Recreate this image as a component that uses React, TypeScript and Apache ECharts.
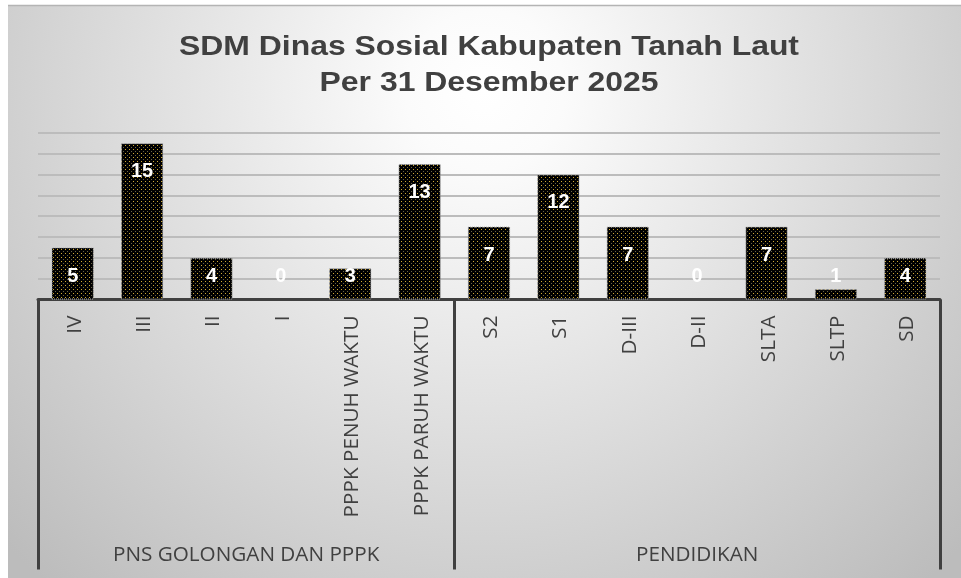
import React, { useEffect, useRef } from "react";
import * as echarts from "echarts";

// ---- data ----
const titleLines = ["SDM Dinas Sosial Kabupaten Tanah Laut", "Per 31 Desember 2025"];
const categories = [
  "IV", "III", "II", "I", "PPPK PENUH WAKTU", "PPPK PARUH WAKTU",
  "S2", "S1", "D-III", "D-II", "SLTA", "SLTP", "SD",
];
const values = [5, 15, 4, 0, 3, 13, 7, 12, 7, 0, 7, 1, 4];
const groupNames = ["PNS GOLONGAN DAN PPPK", "PENDIDIKAN"];
const groupSizes = [6, 7];
const yMin = 0;
const yMax = 16;
const yInterval = 2;

function makePattern(): HTMLCanvasElement {
  const c = document.createElement("canvas");
  c.width = 4;
  c.height = 4;
  const ctx = c.getContext("2d")!;
  ctx.fillStyle = "#000000";
  ctx.fillRect(0, 0, 4, 4);
  ctx.fillStyle = "#d2aa30";
  ctx.fillRect(1, 1, 1, 1);
  ctx.fillStyle = "#6a6446";
  ctx.fillRect(3, 3, 1, 1);
  return c;
}

export default function App() {
  const ref = useRef<HTMLDivElement>(null);

  useEffect(() => {
    if (!ref.current) return;
    const chart = echarts.init(ref.current, undefined, { renderer: "svg" });

    const boundaries: number[] = [0];
    groupSizes.forEach((s) => boundaries.push(boundaries[boundaries.length - 1] + s));
    const groupCenters = groupSizes.map((s, i) => boundaries[i] + s / 2);

    const pattern = makePattern();
    const labelFont = { color: "#404040", fontFamily: "'Open Sans', 'Liberation Sans', sans-serif", fontSize: 20.7 };

    const option: any = {
      animation: false,
      graphic: [
        {
          type: "rect",
          silent: true,
          z: -10,
          shape: { x: 8, y: 5, width: 953, height: 573 },
          style: {
            fill: {
              type: "radial",
              x: 485,
              y: 90,
              r: 660,
              global: true,
              colorStops: [
                { offset: 0, color: "#ffffff" },
                { offset: 0.12, color: "#fbfbfb" },
                { offset: 1, color: "#bcbcbc" },
              ],
            },
          },
        },
        {
          type: "line",
          silent: true,
          z: -9,
          shape: { x1: 8, y1: 5.5, x2: 961, y2: 5.5 },
          style: { stroke: "#b4b4b4", lineWidth: 1.5 },
        },
        ...titleLines.map((t, i) => ({
          type: "text",
          x: 489,
          y: 45 + i * 36,
          scaleX: 1.14,
          style: {
            text: t,
            font: "bold 28px 'Liberation Sans', Arial, sans-serif",
            fill: "#404040",
            align: "center",
            verticalAlign: "middle",
          },
        })),
      ],
      grid: { left: 38, right: 21, top: 132.7, bottom: 578 - 299.5, containLabel: false },
      xAxis: [
        {
          type: "category",
          data: categories,
          axisLine: { show: true, lineStyle: { color: "#404040", width: 3 } },
          axisTick: { show: false },
          axisLabel: { ...labelFont, rotate: 90, margin: 16, interval: 0 },
          splitLine: { show: false },
        },
        {
          type: "value",
          min: 0,
          max: categories.length,
          position: "bottom",
          axisLine: { show: false },
          splitLine: { show: false },
          axisTick: {
            show: true,
            customValues: boundaries,
            length: 270,
            lineStyle: { color: "#404040", width: 3 },
          },
          axisLabel: {
            ...labelFont,
            customValues: groupCenters,
            margin: 243,
            formatter: (v: number) => {
              const idx = groupCenters.findIndex((c) => Math.abs(c - v) < 1e-6);
              return idx >= 0 ? groupNames[idx] : "";
            },
          },
        },
      ],
      yAxis: {
        type: "value",
        min: yMin,
        max: yMax,
        interval: yInterval,
        axisLine: { show: false },
        axisTick: { show: false },
        axisLabel: { show: false },
        splitLine: { show: true, lineStyle: { color: "#bcbcbc", width: 2 } },
      },
      series: [
        {
          type: "bar",
          xAxisIndex: 0,
          barWidth: "61%",
          data: values.map((v) => ({
            value: v,
            itemStyle: v === 0 ? { borderWidth: 0 } : undefined,
            label:
              v > 5
                ? { position: "insideTop", distance: 17 }
                : { position: "insideBottom", distance: 15 },
          })),
          itemStyle: {
            color: { image: pattern, repeat: "repeat" },
            borderColor: "#b0b0b0",
            borderType: "dotted",
            borderWidth: 1,
          },
          label: {
            show: true,
            color: "#ffffff",
            fontFamily: "'Liberation Sans', Arial, sans-serif",
            fontWeight: "bold",
            fontSize: 20,
          },
        },
      ],
    };

    chart.setOption(option);
    return () => chart.dispose();
  }, []);

  return (
    <div
      ref={ref}
      style={{ position: "fixed", left: 0, top: 0, width: 961, height: 578 }}
    />
  );
}
